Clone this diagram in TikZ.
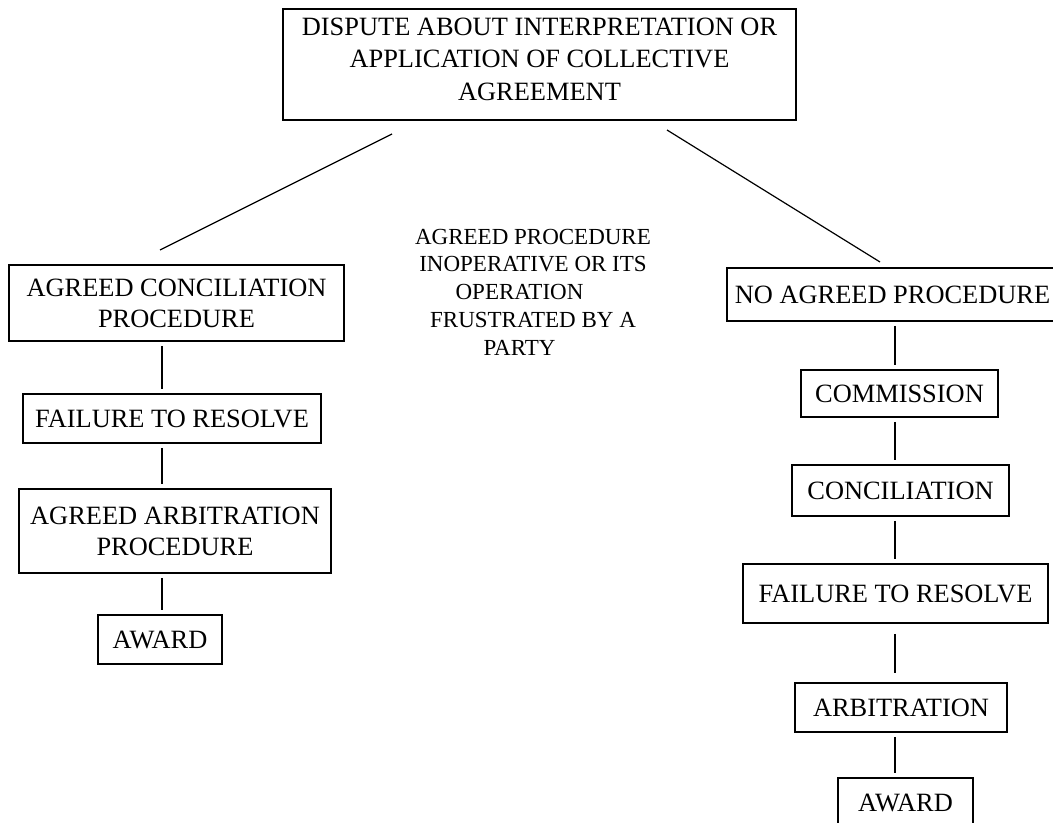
\documentclass[tikz,border=0pt]{standalone}
\usepackage{fontspec}
\setmainfont{Liberation Serif}
\usetikzlibrary{calc}

\tikzset{
  box/.style={draw, line width=0.8pt, inner sep=0pt, align=center, font=\fontsize{13.2}{15.5}\selectfont},
  link/.style={line width=0.7pt, shorten <=2pt, shorten >=2pt}
}

\begin{document}
\begin{tikzpicture}[x=0.5pt,y=-0.5pt]

\useasboundingbox (0,0) rectangle (1053,823);

	%%% top box
    \node[box, minimum width=256.5pt, minimum height=55.5pt, font=\fontsize{13.2}{16.25}\selectfont] (T) at (539.5,64.5)
        {DISPUTE ABOUT INTERPRETATION OR\\ APPLICATION OF COLLECTIVE\\ AGREEMENT\rule[-5.5pt]{0pt}{5.5pt}};

    \coordinate (D1) at (392,134);
    \coordinate (D2) at (160,250);
    \coordinate (D3) at (667,130);
    \coordinate (D4) at (880,262);

    \draw[line width=0.6pt] (D1) -- (D2);
    \draw[line width=0.6pt] (D3) -- (D4);

	%%% agreed procedure (left)
    \coordinate (lcol) at (162,0);

    \node[box, minimum width=167.5pt, minimum height=38pt] (L1) at (176.5,303) {AGREED CONCILIATION\\ PROCEDURE};
    \node[box, minimum width=149pt, minimum height=24.5pt] (L2) at (172,418.5) {FAILURE TO RESOLVE};
    \node[box, minimum width=156pt, minimum height=42pt] (L3) at (175,531) {AGREED ARBITRATION\\ PROCEDURE};
    \node[box, minimum width=62pt, minimum height=24.5pt] (L4) at (160,639.5) {AWARD};

    \draw[link] (L1.south -| lcol) -- (L2.north -| lcol);
    \draw[link] (L2.south -| lcol) -- (L3.north -| lcol);
    \draw[link] (L3.south -| lcol) -- (L4.north -| lcol);

	%%% middle text
    \node[align=center, inner sep=0pt, font=\fontsize{11.5}{13.9}\selectfont] (M) at (533,292)
        {AGREED PROCEDURE\\ INOPERATIVE OR ITS\\ \mbox{OPERATION\hspace{13.5pt}}\\ FRUSTRATED BY A\\ \mbox{PARTY\hspace{13.5pt}}};

	%%% no agreed procedure (right)
    \coordinate (rcol) at (895,0);

    \node[box, minimum width=165.5pt, minimum height=26.5pt] (R1) at (892.5,294.5) {NO AGREED PROCEDURE};
    \node[box, minimum width=98.5pt, minimum height=23.5pt] (R2) at (899.5,393.5) {COMMISSION};
    \node[box, minimum width=108.5pt, minimum height=25.5pt] (R3) at (900.5,490.5) {CONCILIATION};
    \node[box, minimum width=152.5pt, minimum height=29.5pt] (R4) at (895.5,593.5) {FAILURE TO RESOLVE};
    \node[box, minimum width=106pt, minimum height=24.5pt] (R5) at (901,707.5) {ARBITRATION};
    \node[box, minimum width=67.5pt, minimum height=24.5pt] (R6) at (905.5,802.5) {AWARD};

    \draw[link] (R1.south -| rcol) -- (R2.north -| rcol);
    \draw[link] (R2.south -| rcol) -- (R3.north -| rcol);
    \draw[link] (R3.south -| rcol) -- (R4.north -| rcol);
    \draw[link,shorten <=5pt,shorten >=4.5pt] (R4.south -| rcol) -- (R5.north -| rcol);
    \draw[link] (R5.south -| rcol) -- (R6.north -| rcol);

\end{tikzpicture}
\end{document}
